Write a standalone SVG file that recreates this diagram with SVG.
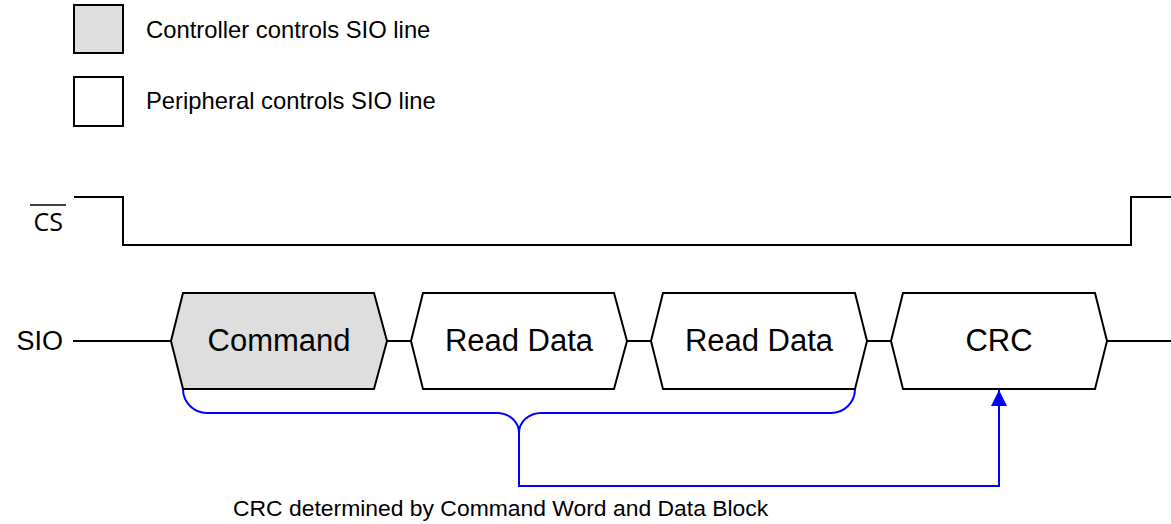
<svg xmlns="http://www.w3.org/2000/svg" width="1171" height="524" viewBox="0 0 1171 524">
<style>
.t{font-family:"Liberation Sans",Arial,sans-serif;fill:#000}
.hex{stroke:#000;stroke-width:2;stroke-linejoin:miter}
.ctl{fill:#dedede}
.per{fill:#fff}
.wire{fill:none;stroke:#000;stroke-width:2}
.blue{fill:none;stroke:#0000ff;stroke-width:2}
</style>
<defs>
<marker id="ah" viewBox="0 0 16 16" refX="16" refY="8" markerWidth="16" markerHeight="16" markerUnits="userSpaceOnUse" orient="auto">
<path d="M0,0 L16,8 L0,16 Z" fill="#0000ff"/>
</marker>
</defs>
<g id="legend-controller">
<rect x="74" y="5" width="49" height="48" class="hex ctl"/>
<text x="146" y="38" class="t" font-size="23.8">Controller controls SIO line</text>
</g>
<g id="legend-peripheral">
<rect x="74" y="77" width="49" height="49" class="hex per"/>
<text x="146" y="109" class="t" font-size="23.8">Peripheral controls SIO line</text>
</g>
<g id="cs-signal">
<text x="63" y="231" text-anchor="end" font-family="'Open Sans','DejaVu Sans',sans-serif" font-size="25">CS</text>
<line x1="30" y1="205" x2="66" y2="205" stroke="#000" stroke-width="1.5"/>
<polyline class="wire" points="74,197 123,197 123,245 1131,245 1131,197 1171,197"/>
</g>
<g id="sio-label">
<text x="63" y="350" text-anchor="end" class="t" font-size="27">SIO</text>
</g>
<g id="connectors">
<line class="wire" x1="73" y1="341" x2="171" y2="341"/>
<line class="wire" x1="387" y1="341" x2="411" y2="341"/>
<line class="wire" x1="627" y1="341" x2="651" y2="341"/>
<line class="wire" x1="867" y1="341" x2="891" y2="341"/>
<line class="wire" x1="1107" y1="341" x2="1171" y2="341"/>
<path class="blue" d="M183,389 A24,24 0 0 0 207,413 L497,413 A22,20 0 0 1 519,433 A22,20 0 0 1 541,413 L831,413 A24,24 0 0 0 855,389"/>
<path class="blue" d="M519,433 L519,486 L999,486 L999,390" marker-end="url(#ah)"/>
</g>
<g id="command">
<polygon class="hex ctl" points="171,341 183,293 374,293 387,341 374,389 183,389"/>
<text x="279" y="351" text-anchor="middle" class="t" font-size="31">Command</text>
</g>
<g id="read-data-1">
<polygon class="hex per" points="411,341 423,293 614,293 627,341 614,389 423,389"/>
<text x="519" y="351" text-anchor="middle" class="t" font-size="31">Read Data</text>
</g>
<g id="read-data-2">
<polygon class="hex per" points="651,341 663,293 855,293 867,341 855,389 663,389"/>
<text x="759" y="351" text-anchor="middle" class="t" font-size="31">Read Data</text>
</g>
<g id="crc">
<polygon class="hex per" points="891,341 903,293 1095,293 1107,341 1095,389 903,389"/>
<text x="999" y="351" text-anchor="middle" class="t" font-size="31">CRC</text>
</g>
<g id="note">
<text x="233" y="516" class="t" font-size="22.9">CRC determined by Command Word and Data Block</text>
</g>
</svg>
